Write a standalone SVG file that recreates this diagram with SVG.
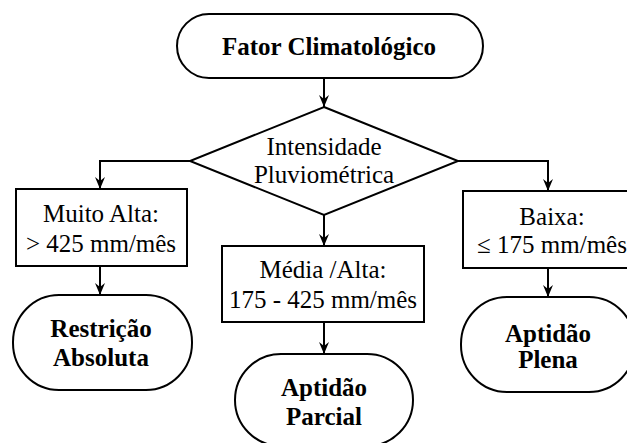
<svg xmlns="http://www.w3.org/2000/svg" width="627" height="443" viewBox="0 0 627 443">
<style>
.shape{fill:#fff;stroke:#000;stroke-width:2}
.conn{fill:none;stroke:#000;stroke-width:2;marker-end:url(#arr)}
text{font-family:"Liberation Serif","DejaVu Serif",serif;font-size:25px;fill:#000;text-anchor:middle}
.b{font-weight:bold}
</style>
<defs>
<marker id="arr" markerUnits="userSpaceOnUse" markerWidth="13" markerHeight="10" refX="12" refY="5" orient="auto" viewBox="0 0 13 10">
<path d="M0,0 L12,5 L0,10 L4,5 Z" fill="#000"/>
</marker>
</defs>
<rect width="627" height="443" fill="#fff"/>
<g id="connectors">
<path class="conn" d="M324,78 V107"/>
<path class="conn" d="M190,161 H100 V189"/>
<path class="conn" d="M458,161 H548 V191"/>
<path class="conn" d="M324,215 V246"/>
<path class="conn" d="M100,266 V295"/>
<path class="conn" d="M324,322 V354"/>
<path class="conn" d="M548,268 V297"/>
</g>
<g id="fator">
<rect class="shape" x="177" y="14" width="306" height="64" rx="32"/>
<text class="b" x="329" y="55">Fator Climatológico</text>
</g>
<g id="intensidade">
<polygon class="shape" points="324,107 458,161 324,215 190,161"/>
<text x="324" y="155">Intensidade</text>
<text x="324" y="183">Pluviométrica</text>
</g>
<g id="muito-alta">
<rect class="shape" x="16" y="189" width="171" height="77"/>
<text x="101" y="222">Muito Alta:</text>
<text x="101" y="252">&gt; 425 mm/mês</text>
</g>
<g id="media-alta">
<rect class="shape" x="222" y="246" width="202" height="76"/>
<text x="323" y="278">Média /Alta:</text>
<text x="323" y="308">175 - 425 mm/mês</text>
</g>
<g id="baixa">
<rect class="shape" x="463" y="191" width="180" height="77"/>
<text x="552" y="225">Baixa:</text>
<text x="552" y="253">≤ 175 mm/mês</text>
</g>
<g id="restricao">
<rect class="shape" x="13" y="295" width="179" height="95" rx="46" ry="47"/>
<text class="b" x="101" y="337">Restrição</text>
<text class="b" x="101" y="366">Absoluta</text>
</g>
<g id="parcial">
<rect class="shape" x="235" y="354" width="178" height="92" rx="46" ry="46"/>
<text class="b" x="324" y="396">Aptidão</text>
<text class="b" x="324" y="425">Parcial</text>
</g>
<g id="plena">
<rect class="shape" x="461" y="297" width="174" height="95" rx="46" ry="47"/>
<text class="b" x="548" y="342">Aptidão</text>
<text class="b" x="548" y="368">Plena</text>
</g>
</svg>
